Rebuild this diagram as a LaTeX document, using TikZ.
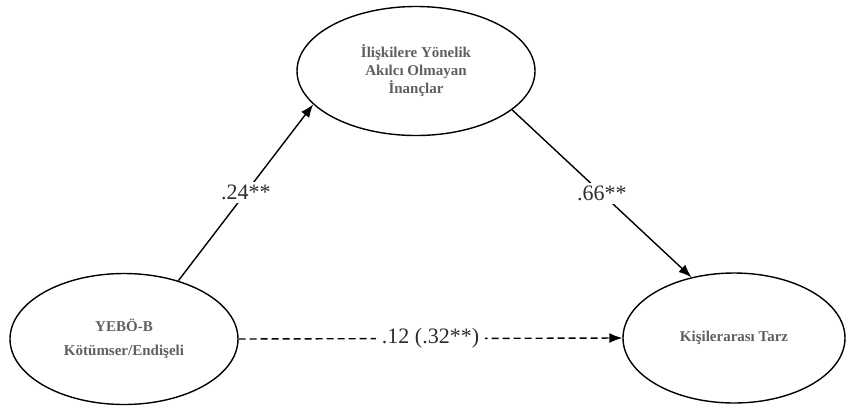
\documentclass[tikz,border=0pt]{standalone}
\usepackage{fontspec}
\setmainfont{Liberation Serif}
\usetikzlibrary{arrows.meta,shapes.geometric}
\definecolor{labelgray}{RGB}{95,95,95}
\definecolor{coefgray}{RGB}{45,45,45}

\begin{document}
\begin{tikzpicture}[>={Latex[length=13pt,width=10pt]},x=1pt,y=-1pt,
  latent/.style={ellipse,draw,line width=1.4pt,minimum width=#1,align=center,
    font=\fontsize{15}{18}\selectfont\bfseries,text=labelgray},
  coef/.style={font=\fontsize{22}{24}\selectfont,text=coefgray,fill=white,inner sep=3pt},
  path/.style={line width=1.4pt,->}]
\useasboundingbox (0,0) rectangle (846,405);
\node[latent=238pt,minimum height=129pt] (inanc) at (416,71) {İlişkilere Yönelik\\Akılcı Olmayan\\İnançlar};
\node[latent=228pt,minimum height=131pt,font=\fontsize{15}{24}\selectfont\bfseries] (yebo) at (124,339) {YEBÖ-B\\Kötümser/Endişeli};
\node[latent=222pt,minimum height=130pt] (tarz) at (734,338) {Kişilerarası Tarz};
\draw[path] (yebo.47) -- node[coef] (a) {.24**} (inanc.198);
\draw[path] (inanc.-22) -- node[coef] (b) {.66**} (tarz.125);
\draw[path,dash pattern=on 7pt off 4pt] (yebo.east) -- node[coef,inner sep=6pt] (c) {.12 (.32**)} (tarz.west);
\end{tikzpicture}
\end{document}
